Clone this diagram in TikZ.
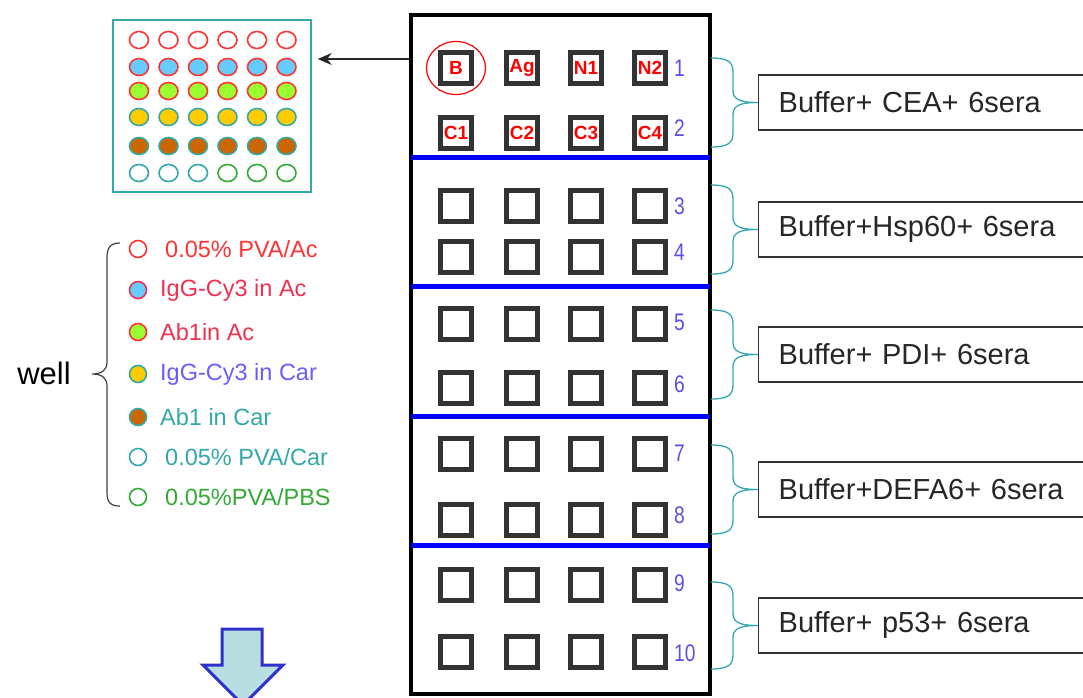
\documentclass[tikz,border=0pt]{standalone}
\usepackage{fontspec}
\setmainfont{Liberation Sans}
\usepackage{xcolor}
\usepackage{tikz}
\usetikzlibrary{arrows.meta,calc,positioning}
\definecolor{tealc}{HTML}{33A8AA}
\definecolor{wellgray}{HTML}{333333}
\definecolor{rowblue}{HTML}{5A50E0}
\definecolor{lblue}{HTML}{66CCFF}
\definecolor{lgreen}{HTML}{99FF33}
\definecolor{lyellow}{HTML}{FFCC00}
\definecolor{lbrown}{HTML}{CC6600}
\definecolor{dgreen}{HTML}{33AA33}
\definecolor{lred}{HTML}{FF3333}
\definecolor{pinkred}{HTML}{F0304F}
\definecolor{violet}{HTML}{6A5CFF}
\definecolor{arrowfill}{HTML}{B8DEE2}
\definecolor{arrowline}{HTML}{3030CC}

\begin{document}
\begin{tikzpicture}[x=1pt,y=-1pt,>=Stealth,
  wellbox/.style={draw=wellgray,line width=5pt,fill=white,minimum size=31pt,inner sep=0pt,
    font=\fontsize{19}{19}\selectfont\bfseries,text=red},
  rownum/.style={anchor=west,text=rowblue,inner sep=0pt,font=\fontsize{24}{24}\selectfont},
  groupbox/.style={draw=black!80,line width=1.3pt,anchor=west,minimum height=55pt,
    text width=330pt,inner xsep=20pt,align=left,text=black!85,font=\fontsize{29}{29}\selectfont},
  grpbrace/.style={draw=tealc,line width=1.3pt},
  spot/.style={line width=1.6pt},
  legtext/.style={anchor=west,inner sep=0pt,font=\fontsize{23.5}{24}\selectfont},
  sepline/.style={draw=blue,line width=5pt,shorten <=2pt,shorten >=2pt}]
    \useasboundingbox (0,0) rectangle (1083,697);
    \clip (0,0) rectangle (1083,697);

    % inset of one well
    \node[draw=tealc,line width=1.5pt,minimum width=198pt,minimum height=172pt,inner sep=0pt] (inset) at (212,106) {};
    \foreach \yy/\fc/\dc in {40/white/lred,67/lblue/lred,91/lgreen/lred,117/lyellow/tealc,146/lbrown/tealc}
      \foreach \xx in {139,168.5,198,227.5,257,286.5}
        \draw[spot,fill=\fc,draw=\dc] (\xx,\yy) ellipse [x radius=9.5pt,y radius=8.5pt];
    \foreach \xx/\dc in {139/tealc,168.5/tealc,198/tealc,227.5/dgreen,257/dgreen,286.5/dgreen}
      \draw[spot,fill=white,draw=\dc] (\xx,173) ellipse [x radius=9.5pt,y radius=8.5pt];

    % legend
    \node[font=\fontsize{31}{31}\selectfont] (well) at (44,373) {well};
    \coordinate (wtip) at (92,374);
    \draw[draw=black!75,line width=1.2pt] (120,243) .. controls (110,243) and (107,248) .. (107,258)
      -- (107,362) .. controls (107,370) and (102,374) .. (wtip)
      .. controls (102,374) and (107,378) .. (107,386)
      -- (107,492) .. controls (107,502) and (110,506) .. (120,506);
    \foreach \yy/\fc/\dc/\tc/\tx/\txt [count=\k] in {
        249/white/lred/lred/165/{0.05\% PVA/Ac},
        290/lblue/pinkred/pinkred/160/{IgG-Cy3 in Ac},
        332/lgreen/lred/pinkred/160/{Ab1in Ac},
        374/lyellow/tealc/violet/160/{IgG-Cy3 in Car},
        417/lbrown/tealc/tealc/160/{Ab1 in Car},
        457/white/tealc/tealc/165/{0.05\% PVA/Car},
        497/white/dgreen/dgreen/165/{0.05\%PVA/PBS}} {
      \draw[spot,fill=\fc,draw=\dc] (138,\yy) circle [radius=8.5pt];
      \node[legtext,text=\tc] (leg\k) at (\tx,\yy) {\txt};
    }

    % plate
    \node[draw,line width=4pt,minimum width=299pt,minimum height=679pt,inner sep=0pt] (plate) at (560.5,354.5) {};
    \foreach \yy in {157,286,416,545}
      \draw[sepline] (plate.west |- 0,\yy) -- (plate.east |- 0,\yy);
    \coordinate (armstart) at (plate.west |- 0,59);
    \draw[-{Stealth[length=14pt,width=12pt]},line width=1.3pt,black!85,shorten >=6pt] (armstart) -- (inset.east |- armstart);

    \foreach \lab/\xx [count=\c] in {B/456,Ag/522,N1/586,N2/650}
      \node[wellbox] (w1-\c) at (\xx,68) {\lab};
    \foreach \lab/\xx [count=\c] in {C1/456,C2/522,C3/586,C4/650}
      \node[wellbox] (w2-\c) at (\xx,133) {\lab};
    \foreach \yy [count=\r from 3] in {206,257,324,388,454,520,585,652}
      \foreach \xx [count=\c] in {456,522,586,650}
        \node[wellbox] (w\r-\c) at (\xx,\yy) {};
    \draw[red,line width=1.2pt] (w1-1) ellipse [x radius=29.5pt,y radius=26.5pt];

    \foreach \yy [count=\r] in {68,128,206,252,322,384,453,515,583,653}
      \node[rownum] (n\r) at (674,\yy) {\scalebox{0.8}[1]{\r}};

    % sample groups
    \foreach \tp/\bt/\txt [count=\g] in {
        58/147/{Buffer+ CEA+ 6sera},
        185/274/{Buffer+Hsp60+ 6sera},
        310/399/{Buffer+ PDI+ 6sera},
        445/534/{Buffer+DEFA6+ 6sera},
        582/669/{Buffer+ p53+ 6sera}} {
      \pgfmathsetmacro\md{(\tp+\bt)/2}
      \node[groupbox] (g\g) at (758,\md) {\txt};
      \draw[grpbrace] (711,\tp) .. controls (728,\tp) and (733,\tp+4) .. (733,\tp+14)
        -- (733,\md-12) .. controls (733,\md-3) and (740,\md) .. (g\g.west)
        .. controls (740,\md) and (733,\md+3) .. (733,\md+12)
        -- (733,\bt-14) .. controls (733,\bt-4) and (728,\bt) .. (711,\bt);
    }

    \draw[fill=arrowfill,draw=arrowline,line width=3pt,line join=miter] (222,629) -- (262,629) -- (262,665)
      -- (283,665) -- (243,705) -- (203,665) -- (222,665) -- cycle;
\end{tikzpicture}
\end{document}
